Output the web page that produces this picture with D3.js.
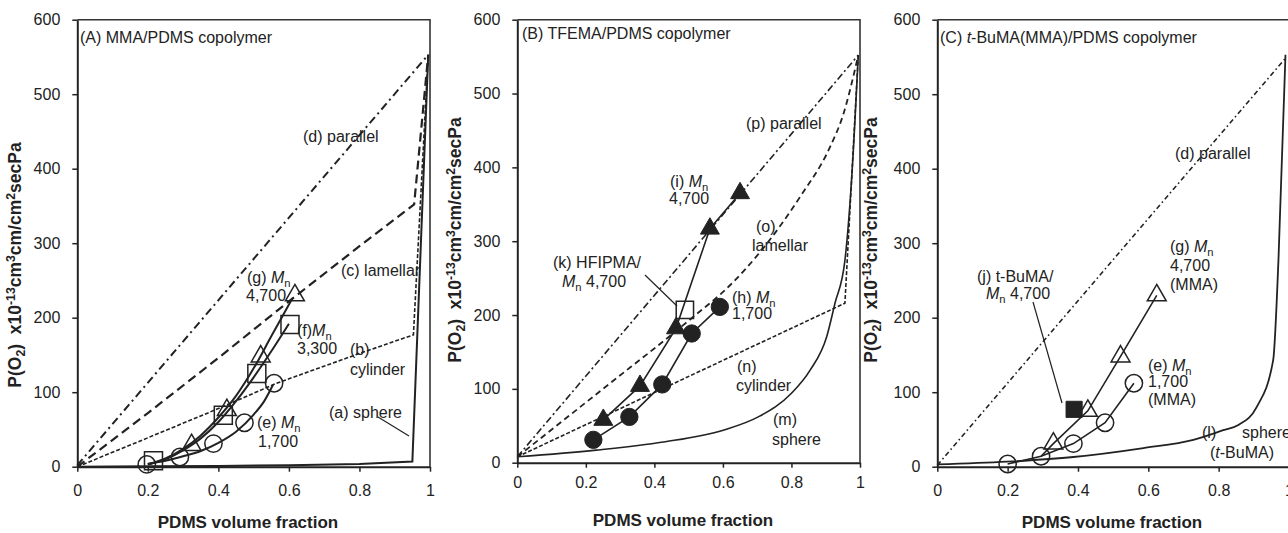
<!DOCTYPE html>
<html><head><meta charset="utf-8">
<script src="https://cdn.jsdelivr.net/npm/d3@7"></script>
<style>
body{margin:0;background:#fff}
svg{display:block}
text{font-family:"Liberation Sans",Arial,Helvetica,sans-serif;fill:#222}
</style>
</head><body>
<svg id="c" width="1288" height="533"></svg>
<script>
// ---------- shared axis data ----------
const xTicks = [0, 0.2, 0.4, 0.6, 0.8, 1];
const xTickLabels = ["0", "0.2", "0.4", "0.6", "0.8", "1"];
const yTicks = [0, 100, 200, 300, 400, 500, 600];

// ---------- Panel A : MMA/PDMS ----------
const aParallel = [[0, 2], [0.995, 553]];
const aLamellar = [[0, 0], [0.2, 72], [0.4, 146], [0.6, 222], [0.8, 296], [0.955, 352], [0.995, 553]];
const aCylinder = [[0, 0], [0.15, 29], [0.4, 78], [0.565, 112], [0.8, 152], [0.953, 177], [0.995, 553]];
const aSphere = [[0, 0], [0.2, 0.5], [0.4, 1], [0.6, 2], [0.8, 3.5], [0.95, 7], [0.995, 553]];
const aCircles = [[0.197, 3], [0.291, 13], [0.386, 31], [0.474, 59], [0.558, 112]];   // (e) Mn 1,700
const aSquares = [[0.216, 8], [0.414, 69], [0.509, 125], [0.603, 191]];               // (f) Mn 3,300
const aTriangles = [[0.324, 29], [0.424, 76], [0.52, 148], [0.617, 230]];             // (g) Mn 4,700
const aFitE = [[0.2, 4], [0.25, 8], [0.3, 14], [0.35, 21], [0.4, 32], [0.45, 47], [0.5, 70], [0.53, 88], [0.555, 110]];
const aFitF = [[0.2, 3], [0.25, 10], [0.3, 22], [0.35, 38], [0.4, 60], [0.45, 88], [0.5, 120], [0.55, 155], [0.6, 192]];
const aFitG = [[0.2, 3], [0.25, 11], [0.3, 24], [0.35, 42], [0.4, 66], [0.45, 95], [0.5, 132], [0.55, 175], [0.61, 226]];

// ---------- Panel B : TFEMA/PDMS ----------
const bParallel = [[0, 8], [0.995, 552]];
const bLamellar = [[0, 8], [0.25, 100], [0.512, 197], [0.62, 240], [0.708, 285], [0.825, 360], [0.913, 428], [0.95, 470], [0.995, 552]];
const bCylinder = [[0, 8], [0.956, 216], [0.995, 552]];
const bSphere = [[0, 8], [0.23, 17], [0.426, 28], [0.601, 44], [0.703, 62], [0.8, 94], [0.854, 125], [0.903, 171], [0.927, 216], [0.956, 274], [0.975, 380], [0.995, 552]];
const bTriangles = [[0.251, 58], [0.358, 104], [0.463, 182], [0.562, 317], [0.65, 365]]; // (i) Mn 4,700
const bCircles = [[0.222, 31], [0.327, 62], [0.423, 106], [0.509, 175], [0.591, 211]];   // (h) Mn 1,700
const bSquare = [[0.489, 207]];                                                          // (k) HFIPMA

// ---------- Panel C : t-BuMA(MMA)/PDMS ----------
const cParallel = [[0, 2], [0.993, 550]];
const cSphere = [[0, 3], [0.197, 6.7], [0.387, 13], [0.586, 25], [0.728, 36], [0.813, 49], [0.856, 56], [0.908, 80], [0.955, 143], [0.97, 277], [0.99, 553]];
const cTriangles = [[0.33, 31], [0.428, 75], [0.521, 148], [0.624, 230]];  // (g) Mn 4,700 (MMA)
const cTriangleLine = [[0.295, 14], [0.33, 31], [0.428, 75], [0.521, 148], [0.624, 230]];
const cCircles = [[0.2, 3.6], [0.295, 14], [0.387, 31], [0.477, 59], [0.559, 112]]; // (e) Mn 1,700 (MMA)
const cSquare = [[0.389, 77]];                                             // (j) t-BuMA

const svg = d3.select("#c");
const INK = "#222";

function rich(g, x, y, parts, opts = {}) {
  const t = g.append("text").attr("x", x).attr("y", y)
    .attr("font-size", opts.size || 16)
    .attr("font-weight", opts.bold ? "bold" : null)
    .attr("text-anchor", opts.anchor || "start");
  if (opts.rotate) t.attr("transform", `rotate(-90,${x},${y})`);
  let shift = 0;
  parts.forEach(p => {
    const [txt, st] = Array.isArray(p) ? p : [p, null];
    const s = t.append("tspan").text(txt);
    let want = 0;
    if (st === "sub") { want = 4; s.attr("font-size", (opts.size || 16) * 0.7); }
    if (st === "sup") { want = -6; s.attr("font-size", (opts.size || 16) * 0.7); }
    if (st === "i") s.attr("font-style", "italic");
    if (want !== shift) { s.attr("dy", want - shift); shift = want; }
  });
  return t;
}
const Mn = (pre, post) => [pre, ["M", "i"], ["n", "sub"], post || ""];

function drawPanel(P) {
  const x = d3.scaleLinear().domain([0, 1]).range([P.left, P.right]);
  const y = d3.scaleLinear().domain([0, 600]).range([P.bottom, P.top]);
  const g = svg.append("g");
  const line = d3.line().x(d => x(d[0])).y(d => y(d[1]));
  const curve = d3.line().x(d => x(d[0])).y(d => y(d[1])).curve(d3.curveMonotoneX);

  // frame (top and right)
  g.append("path").attr("d", `M${x(0)},${y(600)}H${x(1)}V${y(0)}`)
    .attr("fill", "none").attr("stroke", "#333").attr("stroke-width", 1.6);

  // axes
  const xa = g.append("g").attr("transform", `translate(0,${y(0)})`)
    .call(d3.axisBottom(x).tickValues(xTicks).tickFormat((d, i) => xTickLabels[i])
      .tickSizeInner(5).tickSizeOuter(0).tickPadding(P.xPad));
  const ya = g.append("g").attr("transform", `translate(${x(0)},0)`)
    .call(d3.axisLeft(y).tickValues(yTicks).tickSizeInner(5).tickSizeOuter(0).tickPadding(12));
  [xa, ya].forEach(a => {
    a.select(".domain").attr("stroke", INK).attr("stroke-width", 2);
    a.selectAll(".tick line").attr("stroke", INK).attr("stroke-width", 1.5);
    a.selectAll(".tick text").attr("font-size", 16).attr("fill", INK)
      .attr("font-family", '"Liberation Sans",Arial,sans-serif');
  });

  // model lines
  P.models.forEach(m => {
    g.append("path").attr("d", (m.smooth ? curve : line)(m.data))
      .attr("fill", "none").attr("stroke", INK).attr("stroke-width", m.w)
      .attr("stroke-dasharray", m.dash || null);
  });
  // leader lines
  (P.leaders || []).forEach(l => {
    g.append("path").attr("d", `M${l[0]},${l[1]}L${l[2]},${l[3]}`)
      .attr("stroke", INK).attr("stroke-width", 1.2).attr("fill", "none");
  });
  // markers
  P.series.forEach(s => {
    const sym = d3.symbol().type(s.type).size(s.size);
    g.append("g").selectAll("path").data(s.data).join("path")
      .attr("transform", d => `translate(${x(d[0])},${y(d[1])})`)
      .attr("d", sym)
      .attr("fill", s.filled ? INK : "none")
      .attr("stroke", INK).attr("stroke-width", s.filled ? 1 : 1.5);
  });
  // annotations
  P.labels.forEach(l => rich(g, l[0], l[1], l[2]));
  // axis titles
  rich(g, P.yTitle[0], P.yTitle[1],
    ["P(O", ["2", "sub"], ")\u00a0\u00a0x10", ["-13", "sup"], "cm", ["3", "sup"], "cm/cm", ["2", "sup"], "secPa"],
    { bold: true, size: 17.5, anchor: "middle", rotate: true });
  rich(g, P.xTitle[0], P.xTitle[1], ["PDMS volume fraction"], { bold: true, size: 17, anchor: "middle" });
}

const triS = 155, sqS = 324, cirS = 235;

drawPanel({
  left: 77.3, right: 430, top: 19.7, bottom: 466.7, xPad: 13,
  yTitle: [21, 265], xTitle: [248, 528],
  models: [
    { data: aParallel, w: 2, dash: "8,4,2,4" },
    { data: aLamellar, w: 2.2, dash: "9,5" },
    { data: aCylinder, w: 1.6, dash: "4,2" },
    { data: aSphere, w: 2 },
    { data: aFitE, w: 2, smooth: true },
    { data: aFitF, w: 2, smooth: true },
    { data: aFitG, w: 2, smooth: true }
  ],
  series: [
    { data: aCircles, type: d3.symbolCircle, size: cirS },
    { data: aSquares, type: d3.symbolSquare, size: sqS },
    { data: aTriangles, type: d3.symbolTriangle, size: triS }
  ],
  leaders: [[378, 417, 409, 436]],
  labels: [
    [80, 43, ["(A) MMA/PDMS copolymer"]],
    [303, 142, ["(d) parallel"]],
    [341, 276, ["(c) lamellar"]],
    [247, 283, Mn("(g) ")], [246, 301, ["4,700"]],
    [297, 336, Mn("(f)")], [297, 354, ["3,300"]],
    [350, 355, ["(b)"]], [350, 375, ["cylinder"]],
    [329, 418, ["(a) sphere"]],
    [257, 428, Mn("(e) ")], [258, 447, ["1,700"]]
  ]
});

drawPanel({
  left: 517.3, right: 860, top: 19.7, bottom: 462.7, xPad: 9,
  yTitle: [461, 240], xTitle: [683, 526],
  models: [
    { data: bParallel, w: 1.6, dash: "7,3,2,3" },
    { data: bLamellar, w: 1.8, dash: "6,4", smooth: true },
    { data: bCylinder, w: 1.6, dash: "4,2" },
    { data: bSphere, w: 1.6, smooth: true },
    { data: bTriangles, w: 1.6 },
    { data: bCircles, w: 1.6 }
  ],
  series: [
    { data: bCircles, type: d3.symbolCircle, size: cirS, filled: true },
    { data: bTriangles, type: d3.symbolTriangle, size: triS, filled: true },
    { data: bSquare, type: d3.symbolSquare, size: 300 }
  ],
  leaders: [[645, 275, 677, 306]],
  labels: [
    [522, 39, ["(B) TFEMA/PDMS copolymer"]],
    [746, 129, ["(p) parallel"]],
    [670, 187, Mn("(i) ")], [669, 204, ["4,700"]],
    [756, 232, ["(o)"]], [752, 251, ["lamellar"]],
    [553, 268, ["(k) HFIPMA/"]], [562, 287, Mn("", " 4,700")],
    [732, 303, Mn("(h) ")], [732, 319, ["1,700"]],
    [737, 372, ["(n)"]], [736, 391, ["cylinder"]],
    [773, 425, ["(m)"]], [772, 445, ["sphere"]]
  ]
});

drawPanel({
  left: 937.3, right: 1289, top: 19.7, bottom: 466.7, xPad: 13,
  yTitle: [877, 240], xTitle: [1112, 528],
  models: [
    { data: cParallel, w: 1.6, dash: "5,3,1.5,3" },
    { data: cSphere, w: 1.8, smooth: true },
    { data: cTriangleLine, w: 1.6 },
    { data: cCircles, w: 1.6 }
  ],
  series: [
    { data: cCircles, type: d3.symbolCircle, size: cirS },
    { data: cTriangles, type: d3.symbolTriangle, size: triS },
    { data: cSquare, type: d3.symbolSquare, size: 260, filled: true }
  ],
  leaders: [[1033, 302, 1062, 403]],
  labels: [
    [940, 43, ["(C) ", ["t", "i"], "-BuMA(MMA)/PDMS copolymer"]],
    [1175, 159, ["(d) parallel"]],
    [1170, 252, Mn("(g) ")], [1170, 271, ["4,700"]], [1170, 290, ["(MMA)"]],
    [977, 282, ["(j) t-BuMA/"]], [986, 299, Mn("", " 4,700")],
    [1148, 371, Mn("(e) ")], [1148, 387, ["1,700"]], [1148, 405, ["(MMA)"]],
    [1202, 438, ["(l)"]], [1242, 438, ["sphere"]], [1210, 458, ["(", ["t", "i"], "-BuMA)"]]
  ]
});
</script>
</body></html>
